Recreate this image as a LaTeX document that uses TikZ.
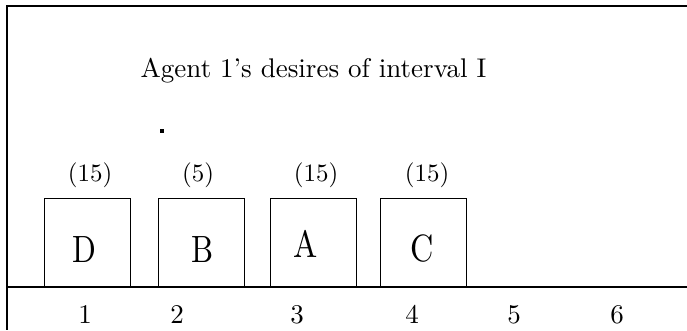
\documentclass[tikz,border=0pt]{standalone}
\usepackage{fontspec}
\usepackage{graphicx}
\setmainfont{lmroman10-regular}[Extension=.otf]
\tikzset{
  frame/.style={line width=1.6pt},
  itembox/.style={draw, line width=1.3pt, rectangle, minimum width=86pt, minimum height=88pt, inner sep=0pt, anchor=south west},
  letter/.style={anchor=base, inner sep=0pt, font=\fontsize{38}{44}\selectfont},
  weight/.style={anchor=base, inner sep=0pt, font=\fontsize{25}{30}\selectfont},
  tick/.style={anchor=base, inner sep=0pt, font=\fontsize{27}{32}\selectfont},
  titletext/.style={anchor=base, inner sep=0pt, font=\fontsize{27}{32}\selectfont}
}
\begin{document}
\begin{tikzpicture}[x=1pt,y=-1pt]
\useasboundingbox (0,0) rectangle (687,330);
% frame
\coordinate (tl) at (7,6);
\coordinate (tr) at (687,6);
\coordinate (bl) at (7,330);
\coordinate (al) at (7,287);
\coordinate (ar) at (687,287);
\draw[frame] (tr) -- (tl) -- (bl);
\draw[frame] (al) -- (ar);
% title
\node[titletext] (title) at (313.5,77) {Agent 1's desires of interval I};
% dot
\node[fill=black, inner sep=0pt, minimum size=3.5pt, rectangle] (dot) at (162,131) {};
% boxes
\node[itembox] (bD) at (44,287) {};
\node[itembox] (bB) at (158,287) {};
\node[itembox] (bA) at (269.5,287) {};
\node[itembox] (bC) at (379.5,287) {};
% letters
\node[letter] (lD) at (84,262) {\scalebox{0.82}[1]{D}};
\node[letter] (lB) at (203,262) {\scalebox{0.82}[1]{B}};
\node[letter] (lA) at (306,257) {\scalebox{0.85}[1]{A}};
\node[letter] (lC) at (422,261) {\scalebox{0.85}[1]{C}};
% weights
\node[weight] (wD) at (90,181) {(15)};
\node[weight] (wB) at (198,181) {(5)};
\node[weight] (wA) at (316,181) {(15)};
\node[weight] (wC) at (427,181) {(15)};
% axis numbers
\node[tick] (n1) at (85,323) {1};
\node[tick] (n2) at (177,323) {2};
\node[tick] (n3) at (297,323) {3};
\node[tick] (n4) at (412,323) {4};
\node[tick] (n5) at (514,323) {5};
\node[tick] (n6) at (617,323) {6};
\end{tikzpicture}
\end{document}
